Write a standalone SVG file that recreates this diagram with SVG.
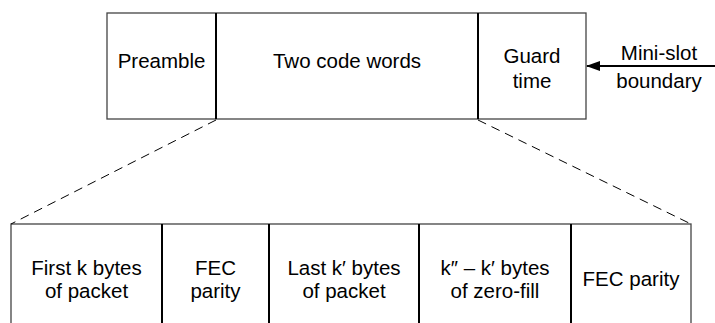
<svg xmlns="http://www.w3.org/2000/svg" width="715" height="323" viewBox="0 0 715 323">
<style>
.box{fill:#fff;stroke:#444;stroke-width:1.3}
.div{stroke:#000;stroke-width:2;fill:none}
.dash{stroke:#000;stroke-width:1;stroke-dasharray:9 6;fill:none}
text{font-family:"Liberation Sans",Arial,sans-serif;font-size:20.5px;fill:#000;text-anchor:middle}
</style>
<defs>
<marker id="ah" markerWidth="14" markerHeight="10" refX="13" refY="5" orient="auto" markerUnits="userSpaceOnUse">
<path d="M0,0 L14,5 L0,10 Z" fill="#000"/>
</marker>
</defs>
<g id="top-frame">
<rect class="box" x="107" y="13" width="479" height="106"/>
</g>
<g id="preamble">
<text x="161.5" y="68">Preamble</text>
</g>
<g id="codewords">
<line class="div" x1="216" y1="13" x2="216" y2="119"/>
<text x="347" y="68">Two code words</text>
</g>
<g id="guard">
<line class="div" x1="478" y1="13" x2="478" y2="119"/>
<text x="532" y="63">Guard</text>
<text x="532" y="88">time</text>
</g>
<g id="minislot">
<text x="659" y="60">Mini-slot</text>
<text x="659" y="88">boundary</text>
</g>
<g id="bottom-frame">
<rect class="box" x="11" y="224" width="680" height="110"/>
</g>
<g id="first">
<text x="86.5" y="275">First k bytes</text>
<text x="86.5" y="298">of packet</text>
</g>
<g id="fec1">
<line class="div" x1="162" y1="224" x2="162" y2="323"/>
<text x="215.5" y="275">FEC</text>
<text x="215.5" y="298">parity</text>
</g>
<g id="last">
<line class="div" x1="269" y1="224" x2="269" y2="323"/>
<text x="344" y="275">Last k′ bytes</text>
<text x="344" y="298">of packet</text>
</g>
<g id="zerofill">
<line class="div" x1="419" y1="224" x2="419" y2="323"/>
<text x="495" y="275">k″ – k′ bytes</text>
<text x="495" y="298">of zero-fill</text>
</g>
<g id="fec2">
<line class="div" x1="571" y1="224" x2="571" y2="323"/>
<text x="631" y="286">FEC parity</text>
</g>
<g id="connectors">
<line class="dash" x1="216" y1="120" x2="11" y2="224"/>
<line class="dash" x1="478" y1="120" x2="691" y2="224"/>
<line x1="715" y1="66" x2="587" y2="66" stroke="#000" stroke-width="2" marker-end="url(#ah)"/>
</g>
</svg>
